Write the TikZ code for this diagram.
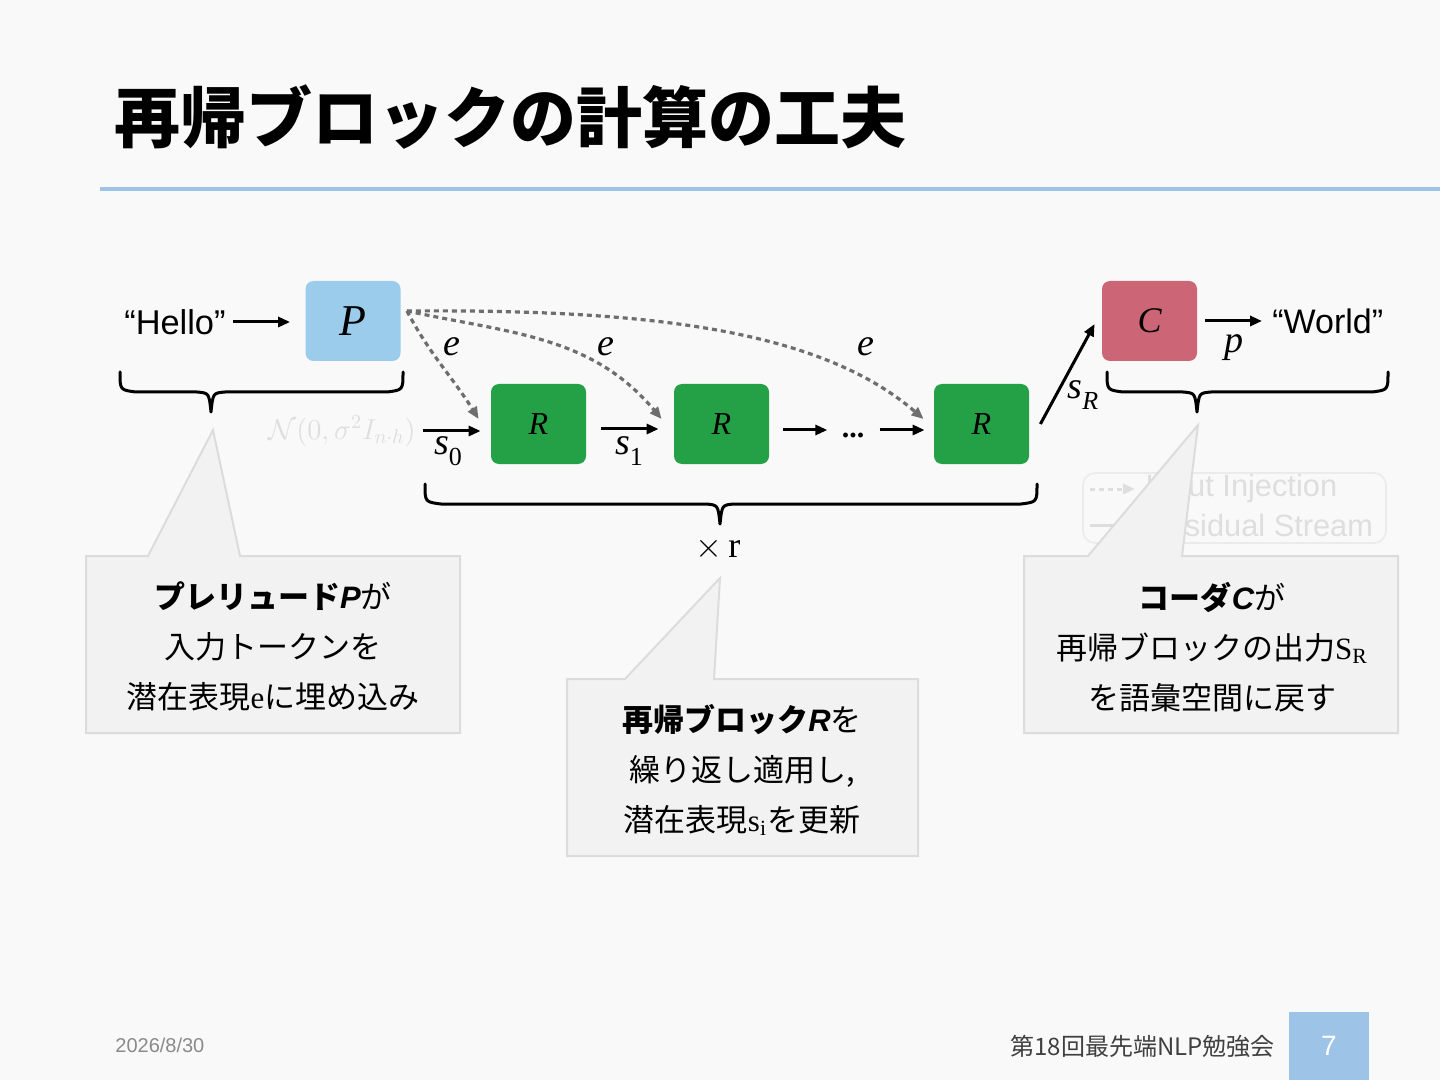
\documentclass[tikz,border=0pt]{standalone}
\usepackage{fontspec}
\setmainfont{Liberation Serif}
\setsansfont{Liberation Sans}
\newfontfamily\jp{Noto Sans CJK JP}
\newfontfamily\arial{Liberation Sans}
\usetikzlibrary{arrows.meta,decorations.pathreplacing,calc}
\definecolor{bg}{HTML}{F9F9F9}
\definecolor{pblue}{HTML}{9BCCEC}
\definecolor{rgreen}{HTML}{24A146}
\definecolor{crose}{HTML}{CC6677}
\definecolor{lineblue}{HTML}{9DC3E6}
\definecolor{callfill}{HTML}{F2F2F2}
\definecolor{callline}{HTML}{DCDCDC}
\definecolor{dashgray}{HTML}{6E6E6E}
\definecolor{faint}{HTML}{DEDEDE}
\definecolor{footgray}{HTML}{8A8A8A}
\definecolor{footdark}{HTML}{404040}
\newcommand\subx[1]{\raisebox{-0.28em}{\fontsize{13}{13}\selectfont #1}}
% brace: x1, x2, xm (tip), y (top)
\newcommand\hbrace[4]{%
  \draw[line width=1.5pt,line cap=round,line join=round]
    (#1,#4) .. controls (#1,#4+18) .. (#1+16,#4+20) -- (#3-14,#4+20)
    .. controls (#3-2,#4+21) .. (#3,#4+40)
    .. controls (#3+2,#4+21) .. (#3+14,#4+20) -- (#2-16,#4+20)
    .. controls (#2,#4+18) .. (#2,#4);}
\begin{document}
\begin{tikzpicture}[x=0.5pt,y=-0.5pt,
  block/.style={minimum width=47.5pt,minimum height=40pt,rounded corners=4pt,inner sep=0pt},
  arr/.style={line width=1.5pt,-{Triangle[length=6pt,width=5pt]}},
  inj/.style={dashgray,line width=1.6pt,dash pattern=on 2.5pt off 2pt,-{Triangle[length=6pt,width=5pt]}},
  lbl/.style={inner sep=0pt,font=\itshape\fontsize{19}{22}\selectfont},
  callout/.style={fill=callfill,draw=callline,line width=1pt},
  calltext/.style={align=center,inner sep=0pt,font=\jp\fontsize{15.5}{25}\selectfont},
  lg/.style={text=faint,inner sep=0pt,anchor=west,font=\arial\fontsize{15.4}{18}\selectfont}]
\fill[bg] (0,0) rectangle (1440,1080);
\useasboundingbox (0,0) rectangle (1440,1080);

% title
\node[anchor=west,inner sep=0pt,font=\jp\bfseries\fontsize{33}{38}\selectfont] (title) at (114,117) {再帰ブロックの計算の工夫};
\draw[lineblue,line width=2pt] (100,189) -- (1440,189);

% faint legend (behind callout)
\draw[faint!60,line width=0.8pt,rounded corners=6pt] (1083,473) rectangle (1386,543);
\node[lg] (leg1) at (1145,489) {Input Injection};
\node[lg] (leg2) at (1145,525) {Residual Stream};
\coordinate (lg1a) at (1090,489);
\coordinate (lg2a) at (1090,525);
\draw[faint,line width=1.5pt,dash pattern=on 2.5pt off 2pt,-{Triangle[length=6pt,width=5pt]},shorten >=5pt] (lg1a) -- (leg1.west);
\draw[faint,line width=1.5pt,shorten >=5pt] (lg2a) -- (leg2.west);

% main diagram
\node[anchor=east,inner sep=0pt,font=\arial\fontsize{17.2}{20}\selectfont] (hello) at (226,322) {“Hello”};
\node[block,fill=pblue,font=\itshape\fontsize{22}{24}\selectfont] (P) at (353,321) {P};
\draw[arr,shorten <=3.5pt,shorten >=7.5pt] (hello.east) -- (hello.east -| P.west);

\node[anchor=east,inner sep=0pt,text=faint,font=\fontsize{14.5}{16}\selectfont] (noise) at (416,431) {$\mathcal{N}(0,\sigma^2 I_{n\cdot h})$};

\node[block,fill=rgreen,font=\itshape\fontsize{16}{18}\selectfont] (R1) at (538.5,424) {R};
\node[block,fill=rgreen,font=\itshape\fontsize{16}{18}\selectfont] (R2) at (721.5,424) {R};
\node[block,fill=rgreen,font=\itshape\fontsize{16}{18}\selectfont] (R3) at (981.5,424) {R};
\node[block,fill=crose,font=\itshape\fontsize{18}{20}\selectfont] (C) at (1149.5,321) {C};

\draw[arr,shorten <=3.5pt,shorten >=5pt] (noise.east) -- (noise.east -| R1.west);
\node[lbl] (s0) at (448,451) {s\subx{\upshape 0}};
\draw[arr,shorten <=7.5pt,shorten >=7.5pt] ([yshift=-2.5pt]R1.east) -- ([yshift=-2.5pt]R2.west);
\node[lbl] (s1) at (629,451) {s\subx{\upshape 1}};
\node[inner sep=0pt,font=\bfseries\fontsize{15}{18}\selectfont] (dots) at (853,430) {\raisebox{-3.5pt}[0pt][0pt]{...}};
\draw[arr,shorten <=7pt,shorten >=7pt] ([yshift=-3pt]R2.east) -- (dots.west);
\draw[arr,shorten <=7.5pt,shorten >=4.5pt] (dots.east) -- ([yshift=-3pt]R3.west);

\draw[arr] ([xshift=5.5pt]R3.east) -- ([shift={(-3.5pt,-1.5pt)}]C.west);
\node[lbl] (sR) at (1083,395) {s\subx{R}};

\node[anchor=west,inner sep=0pt,font=\arial\fontsize{17}{20}\selectfont] (world) at (1272,321) {“World”};
\draw[arr,shorten <=4pt,shorten >=5pt] (C.east) -- (C.east -| world.west);
\node[lbl] (p) at (1234,348) {p};

% input injections
\coordinate (pout) at ([shift={(3pt,5pt)}]P.east);
\draw[inj] (pout) to[out=-62,in=122] ([shift={(-6pt,2.5pt)}]R1.west);
\draw[inj] (pout) to[out=-12,in=130] ([shift={(-6pt,2.5pt)}]R2.west);
\draw[inj] (pout) .. controls (650,309) and (820,330) .. ([shift={(-5pt,2.5pt)}]R3.west);
\node[lbl] (e1) at (452,347) {e};
\node[lbl] (e2) at (606,347) {e};
\node[lbl] (e3) at (866,347) {e};

% braces
\hbrace{120}{403}{211}{372}
\hbrace{425}{1037}{720}{484}
\hbrace{1107}{1388}{1197}{372}
\node[inner sep=0pt,font=\fontsize{18}{20}\selectfont] (times) at (718,549) {$\times\,\mathrm{r}$};

% callouts
\draw[callout] (86,556) -- (148,556) -- (213,430) -- (240,556) -- (460,556) -- (460,733) -- (86,733) -- cycle;
\draw[callout] (567,679) -- (625,679) -- (720,578) -- (714,679) -- (918,679) -- (918,856) -- (567,856) -- cycle;
\draw[callout] (1024,556) -- (1088,556) -- (1198,425) -- (1182,556) -- (1398,556) -- (1398,733) -- (1024,733) -- cycle;

\node[calltext] (t1) at (273,646) {{\bfseries プレリュード{\arial\bfseries\itshape P}}が\\入力トークンを\\潜在表現{\rmfamily e}に埋め込み};
\node[calltext] (t2) at (742,770) {{\bfseries 再帰ブロック{\arial\bfseries\itshape R}}を\\繰り返し適用し,\\潜在表現{\rmfamily s\textsubscript{i}}を更新};
\node[calltext] (t3) at (1212,647) {{\bfseries コーダ{\arial\bfseries\itshape C}}が\\再帰ブロックの出力{\rmfamily S\textsubscript{R}}\\を語彙空間に戻す};

% footer
\node[anchor=west,inner sep=0pt,text=footgray,font=\arial\fontsize{10}{12}\selectfont] (date) at (115,1045) {2026/8/30};
\node[anchor=east,inner sep=0pt,text=footdark,font=\jp\fontsize{12}{14}\selectfont] (conf) at (1275,1046) {第18回最先端NLP勉強会};
\fill[lineblue] (1289,1012) rectangle (1369,1080);
\node[text=white,inner sep=0pt,font=\arial\fontsize{14}{16}\selectfont] (pg) at (1329,1046) {7};
\end{tikzpicture}
\end{document}
